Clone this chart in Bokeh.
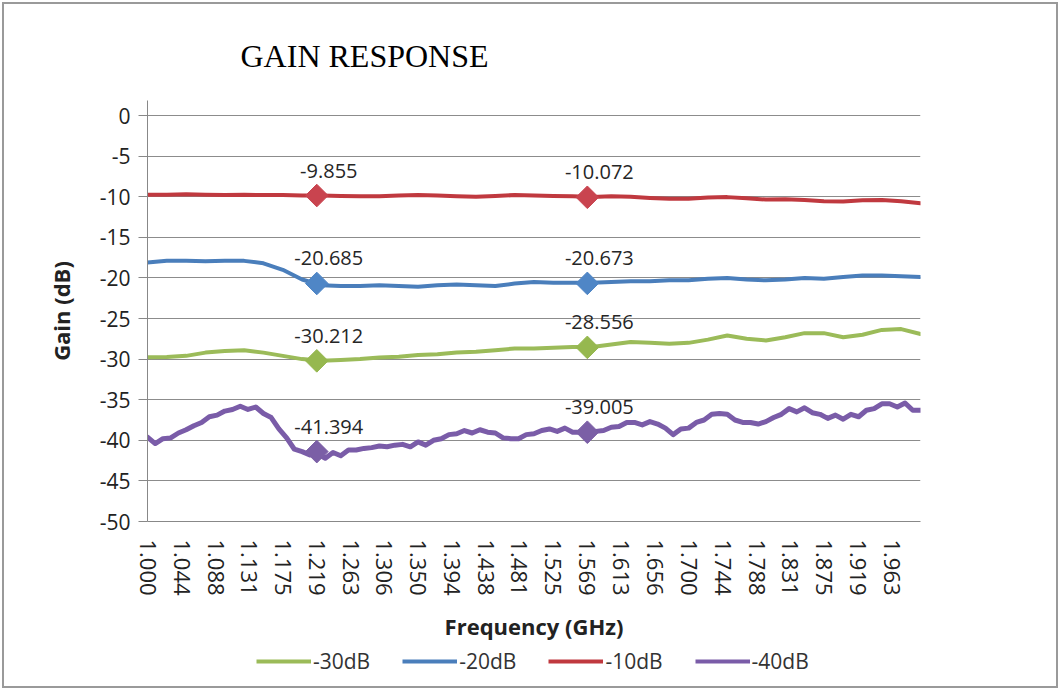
from bokeh.plotting import figure
from bokeh.layouts import column
from bokeh.models import Range1d, FixedTicker, Legend, LegendItem
from bokeh.embed import file_html
from bokeh.resources import INLINE
from bokeh.core.properties import value

TITLE = "GAIN RESPONSE"
X_LABEL = "Frequency (GHz)"
Y_LABEL = "Gain (dB)"
TICK_LABELS = ["1.000", "1.044", "1.088", "1.131", "1.175", "1.219", "1.263", "1.306",
               "1.350", "1.394", "1.438", "1.481", "1.525", "1.569", "1.613", "1.656",
               "1.700", "1.744", "1.788", "1.831", "1.875", "1.919", "1.963"]
Y_TICKS = [0, -5, -10, -15, -20, -25, -30, -35, -40, -45, -50]
SERIES_NAMES = ["-30dB", "-20dB", "-10dB", "-40dB"]

FREQ_COARSE = [1.000, 1.025, 1.050, 1.075, 1.100, 1.125, 1.150, 1.175, 1.200, 1.225,
               1.250, 1.275, 1.300, 1.325, 1.350, 1.375, 1.400, 1.425, 1.450, 1.475,
               1.500, 1.525, 1.550, 1.575, 1.600, 1.625, 1.650, 1.675, 1.700, 1.725,
               1.750, 1.775, 1.800, 1.825, 1.850, 1.875, 1.900, 1.925, 1.950, 1.975, 2.000]

GAIN_30 = [-29.76, -29.75, -29.6, -29.2, -29.0, -28.9, -29.2, -29.6, -30.0, -30.2,
           -30.1, -30.0, -29.8, -29.7, -29.5, -29.4, -29.2, -29.1, -28.9, -28.7,
           -28.7, -28.6, -28.5, -28.5, -28.2, -27.9, -28.0, -28.1, -28.0, -27.6,
           -27.1, -27.5, -27.7, -27.3, -26.8, -26.8, -27.3, -27.0, -26.4, -26.3, -26.9]

GAIN_20 = [-18.1, -17.9, -17.9, -17.95, -17.9, -17.9, -18.2, -19.0, -20.2, -20.9,
           -21.0, -21.0, -20.9, -21.0, -21.1, -20.9, -20.8, -20.9, -21.0, -20.7,
           -20.5, -20.6, -20.6, -20.6, -20.5, -20.4, -20.4, -20.3, -20.3, -20.1,
           -20.0, -20.2, -20.3, -20.2, -20.0, -20.1, -19.9, -19.7, -19.7, -19.8, -19.9]

GAIN_10 = [-9.75, -9.75, -9.7, -9.75, -9.8, -9.75, -9.8, -9.8, -9.85, -9.85,
           -9.9, -9.95, -9.95, -9.85, -9.8, -9.85, -9.95, -10.0, -9.9, -9.8,
           -9.85, -9.9, -9.95, -10.05, -9.95, -10.0, -10.15, -10.25, -10.25, -10.1,
           -10.05, -10.2, -10.35, -10.3, -10.4, -10.55, -10.6, -10.45, -10.4, -10.55, -10.8]

FREQ_FINE = [1.00, 1.01, 1.02, 1.03, 1.04, 1.05, 1.06, 1.07, 1.08, 1.09,
             1.10, 1.11, 1.12, 1.13, 1.14, 1.15, 1.16, 1.17, 1.18, 1.19,
             1.20, 1.21, 1.22, 1.23, 1.24, 1.25, 1.26, 1.27, 1.28, 1.29,
             1.30, 1.31, 1.32, 1.33, 1.34, 1.35, 1.36, 1.37, 1.38, 1.39,
             1.40, 1.41, 1.42, 1.43, 1.44, 1.45, 1.46, 1.47, 1.48, 1.49,
             1.50, 1.51, 1.52, 1.53, 1.54, 1.55, 1.56, 1.57, 1.58, 1.59,
             1.60, 1.61, 1.62, 1.63, 1.64, 1.65, 1.66, 1.67, 1.68, 1.69,
             1.70, 1.71, 1.72, 1.73, 1.74, 1.75, 1.76, 1.77, 1.78, 1.79,
             1.80, 1.81, 1.82, 1.83, 1.84, 1.85, 1.86, 1.87, 1.88, 1.89,
             1.90, 1.91, 1.92, 1.93, 1.94, 1.95, 1.96, 1.97, 1.98, 1.99, 2.00]

GAIN_40 = [-39.6, -40.4, -39.8, -39.7, -39.1, -38.7, -38.2, -37.8, -37.1, -36.9,
           -36.4, -36.2, -35.8, -36.2, -35.9, -36.7, -37.2, -38.6, -39.7, -41.1,
           -41.4, -41.8, -41.7, -42.2, -41.5, -41.9, -41.2, -41.2, -41.0, -40.9,
           -40.7, -40.8, -40.6, -40.5, -40.8, -40.2, -40.6, -40.0, -39.8, -39.3,
           -39.2, -38.8, -39.1, -38.7, -39.0, -39.1, -39.7, -39.8, -39.8, -39.3,
           -39.2, -38.8, -38.6, -38.9, -38.5, -39.0, -39.0, -39.6, -38.9, -38.8,
           -38.4, -38.3, -37.8, -37.8, -38.1, -37.7, -38.0, -38.5, -39.3, -38.6,
           -38.5, -37.8, -37.5, -36.8, -36.7, -36.8, -37.5, -37.8, -37.8, -38.0,
           -37.7, -37.2, -36.8, -36.1, -36.5, -36.0, -36.6, -36.8, -37.3, -36.9,
           -37.4, -36.8, -37.1, -36.3, -36.1, -35.5, -35.5, -35.9, -35.4, -36.3, -36.3]

MARK_FREQ = [1.219, 1.569]
MARK_30 = [-30.212, -28.556]
MARK_20 = [-20.685, -20.673]
MARK_10 = [-9.855, -10.072]
MARK_40 = [-41.394, -39.005]

COLORS = {"-30dB": "#9bbb59", "-20dB": "#4a7ebb", "-10dB": "#c0393f", "-40dB": "#7a5ca8"}
MARK_COLORS = {"-30dB": "#96b84f", "-20dB": "#4f86c6", "-10dB": "#c9444f", "-40dB": "#7b5fa6"}

FONT = "Open Sans"

series = {
    "-30dB": (FREQ_COARSE, GAIN_30, MARK_30),
    "-20dB": (FREQ_COARSE, GAIN_20, MARK_20),
    "-10dB": (FREQ_COARSE, GAIN_10, MARK_10),
    "-40dB": (FREQ_FINE, GAIN_40, MARK_40),
}

p = figure(width=1052, height=640, output_backend="svg", toolbar_location=None,
           x_range=Range1d(1.0, 2.0), y_range=Range1d(-50, 1.85),
           min_border_left=143, min_border_right=136, min_border_top=96,
           min_border_bottom=123)
p.background_fill_color = "white"
p.border_fill_color = "white"
p.outline_line_color = None

# title
p.title.text = TITLE
p.title.text_font = "Liberation Serif"
p.title.text_font_size = "32px"
p.title.text_font_style = "normal"
p.title.text_color = "#000000"
p.title.align = "left"
p.title.offset = 93
p.title.standoff = 53

# axes
tick_vals = [float(s) for s in TICK_LABELS]
p.xaxis.ticker = FixedTicker(ticks=tick_vals)
p.xaxis.major_label_overrides = {float(s): s for s in TICK_LABELS}
p.xaxis.major_label_orientation = "vertical"
p.xaxis.minor_tick_line_color = None
p.xaxis.major_tick_out = 0
p.xaxis.major_tick_in = 0
p.xaxis.axis_line_color = "#888888"
p.xaxis.major_label_text_font = FONT
p.xaxis.major_label_text_font_size = "22px"
p.xaxis.major_label_text_color = "#222222"
p.xaxis.major_label_standoff = 18
p.xaxis.axis_label = X_LABEL
p.xaxis.axis_label_text_font = FONT
p.xaxis.axis_label_text_font_style = "bold"
p.xaxis.axis_label_text_font_size = "22px"
p.xaxis.axis_label_text_color = "#222222"
p.xaxis.axis_label_standoff = 12

p.yaxis.ticker = FixedTicker(ticks=Y_TICKS)
p.yaxis.major_label_overrides = {float(v): str(v) for v in Y_TICKS}
p.yaxis.minor_tick_line_color = None
p.yaxis.major_tick_out = 9
p.yaxis.major_tick_in = 0
p.yaxis.major_tick_line_color = "#888888"
p.yaxis.axis_line_color = "#888888"
p.yaxis.major_label_text_font = FONT
p.yaxis.major_label_text_font_size = "21px"
p.yaxis.major_label_text_color = "#222222"
p.yaxis.major_label_standoff = 8
p.yaxis.axis_label = Y_LABEL
p.yaxis.axis_label_text_font = FONT
p.yaxis.axis_label_text_font_style = "bold"
p.yaxis.axis_label_text_font_size = "22px"
p.yaxis.axis_label_text_color = "#222222"
p.yaxis.axis_label_standoff = 21

p.xgrid.grid_line_color = None
p.ygrid.ticker = FixedTicker(ticks=Y_TICKS)
p.ygrid.grid_line_color = "#8c8c8c"
p.ygrid.grid_line_width = 1

for name in SERIES_NAMES:
    xs, ys, _ = series[name]
    lw = 5 if name == "-40dB" else 4
    p.line(xs, ys, line_color=COLORS[name], line_width=lw,
           line_join="round", line_cap="round")

for name in SERIES_NAMES:
    _, _, marks = series[name]
    p.scatter(MARK_FREQ, marks, marker="square", angle=45, angle_units="deg", size=16,
              fill_color=MARK_COLORS[name], line_color=MARK_COLORS[name])
    p.text(MARK_FREQ, marks, text=[f"{v:.3f}" for v in marks],
           x_offset=12, y_offset=-25, text_align="center", text_baseline="middle",
           text_font=value(FONT), text_font_size="20px", text_color="#262626")

# legend strip (same series, drawn off-range so only the legend shows)
lg = figure(width=1052, height=42, output_backend="svg", toolbar_location=None,
            x_range=Range1d(10, 11), y_range=Range1d(10, 11),
            min_border_left=0, min_border_right=0, min_border_top=0, min_border_bottom=0)
lg.axis.visible = False
lg.grid.visible = False
lg.outline_line_color = None
lg.background_fill_color = "white"
lg.border_fill_color = "white"
leg_renderers = {}
for name in SERIES_NAMES:
    xs, ys, _ = series[name]
    leg_renderers[name] = lg.line(xs, ys, line_color=COLORS[name], line_width=4)

legend = Legend(items=[LegendItem(label=n, renderers=[leg_renderers[n]]) for n in SERIES_NAMES],
                orientation="horizontal", location=(109, 11),
                glyph_width=55, glyph_height=20, label_standoff=2, spacing=32,
                label_text_font=FONT, label_text_font_size="21px", label_text_color="#333333",
                border_line_color=None, background_fill_alpha=0, padding=2, margin=0)
lg.add_layout(legend)

layout = column(p, lg, spacing=0)
layout.styles = {"border": "2px solid #9a9a9a", "margin": "2px", "background": "white"}

open("out.html", "w").write(file_html(layout, INLINE))
